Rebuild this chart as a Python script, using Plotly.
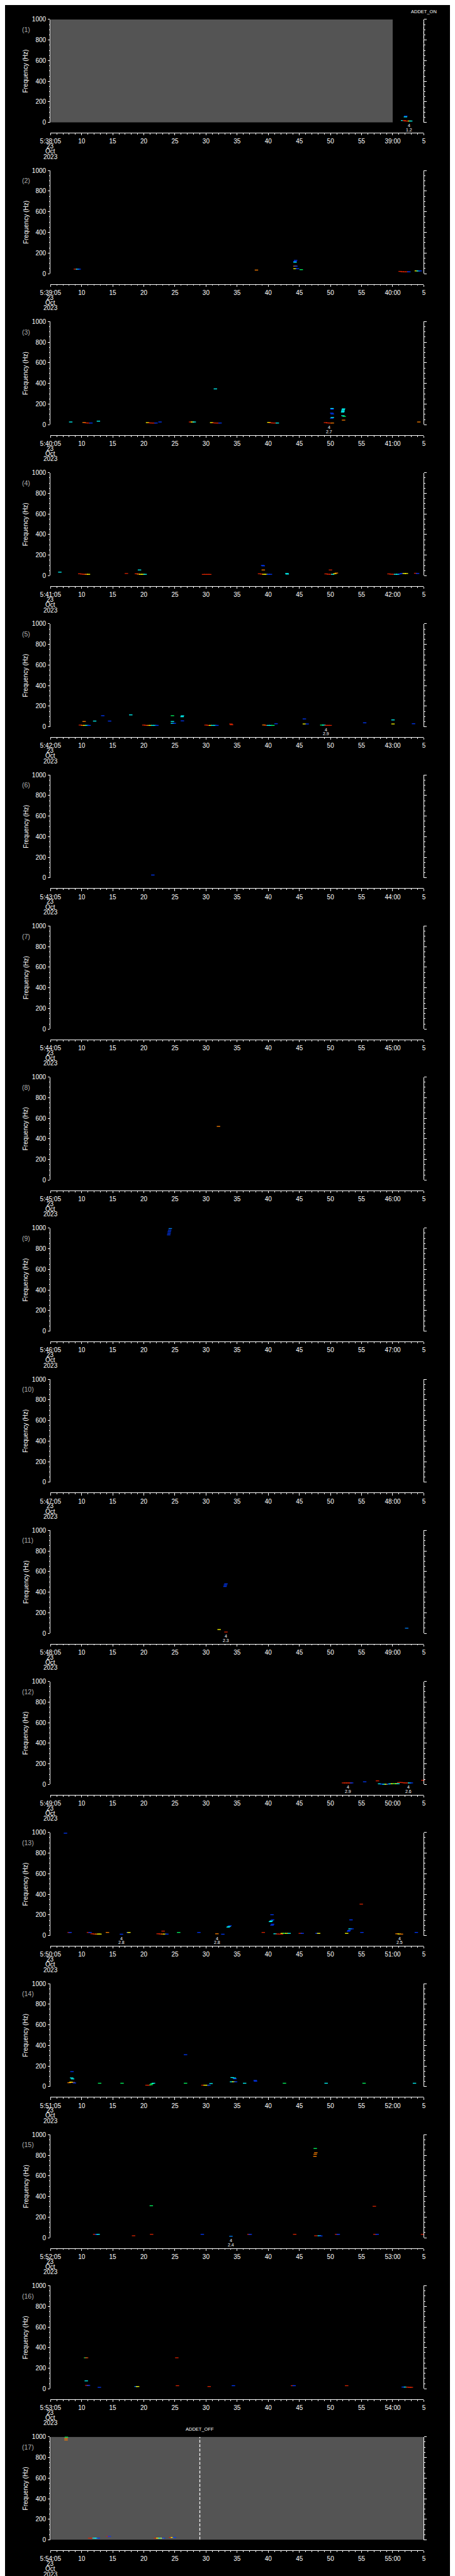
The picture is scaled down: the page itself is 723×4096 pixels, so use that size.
import plotly.graph_objects as go

# ---------------- reference geometry (reference pixel space) ----------------
W_REF, H_REF = 1024.0, 5802.0
S = 0.705
W_OUT, H_OUT = 723, 4096

# ---------------- data ----------------
PANEL_START = ["5:38:05", "5:39:05", "5:40:05", "5:41:05", "5:42:05", "5:43:05",
               "5:44:05", "5:45:05", "5:46:05", "5:47:05", "5:48:05", "5:49:05",
               "5:50:05", "5:51:05", "5:52:05", "5:53:05", "5:54:05"]
PANEL_MINUTE = ["39:00", "40:00", "41:00", "42:00", "43:00", "44:00", "45:00", "46:00",
                "47:00", "48:00", "49:00", "50:00", "51:00", "52:00", "53:00", "54:00", "55:00"]
MID_TICKS = ["10", "15", "20", "25", "30", "35", "40", "45", "50", "55"]
DATE_LINES = ["23", "Oct", "2023"]
Y_TICKS = [0, 200, 400, 600, 800, 1000]

# grey "instrument off" spans: panel, start s, end s
GREY_PANEL = [1, 17]
GREY_T0 = [0, 0]
GREY_T1 = [55, 60]

# ADDET markers: panel, time s, text
ADDET_PANEL = [1, 17]
ADDET_T = [60, 24.0]
ADDET_TEXT = ["ADDET_ON", "ADDET_OFF"]

# event labels under panels
EVT_PANEL = [1, 3, 5, 11, 12, 12, 13, 13, 13, 15]
EVT_T = [57.6, 44.8, 44.3, 28.2, 47.8, 57.5, 11.4, 26.8, 56.1, 29.0]
EVT_N = ["4", "4", "4", "4", "4", "4", "4", "4", "4", "4"]
EVT_V = ["1.2", "2.7", "2.9", "2.3", "2.9", "2.6", "2.8", "2.8", "2.5", "2.4"]

# spectrogram picks per panel: time (s after start), frequency (Hz), level (0..1)
P01_T = [57.1, 57.05, 56.6, 56.85, 57.1, 57.4, 57.7, 57.9]
P01_F = [62, 54, 19, 19, 14, 14, 14, 14]
P01_V = [0.1, 0.36, 0.36, 0.95, 0.95, 0.95, 0.66, 0.36]

P02_T = [4.0, 4.35, 4.6, 33.1, 39.4, 39.3, 39.3, 39.3, 39.45, 39.3, 39.7, 40.3,
         56.2, 56.55, 56.9, 57.25, 57.6, 58.8, 59.1, 59.4]
P02_F = [43, 43, 43, 34, 128, 118, 110, 72, 72, 47, 47, 38, 21, 18, 17, 17, 17, 26, 26, 26]
P02_V = [0.95, 0.36, 0.1, 0.82, 0.1, 0.1, 0.36, 0.82, 0.1, 0.66, 0.1, 0.52,
         0.95, 0.95, 0.95, 0.95, 0.1, 0.66, 0.36, 0.1]

P03_T = [3.25, 5.4, 5.75, 6.1, 6.5, 7.7, 15.6, 15.95, 16.3, 16.65, 16.95, 17.6,
         22.5, 22.8, 23.1, 25.9, 26.25, 26.6, 26.95, 27.25, 26.5,
         35.1, 35.4, 35.75, 36.1, 36.45, 44.2, 44.55, 44.9, 45.3, 45.25, 45.25,
         45.2, 45.3, 45.2, 45.3, 47.1, 47.05, 47.0, 47.0, 46.95, 47.0, 47.2, 47.1, 59.2]
P03_F = [26, 21, 17, 16, 16, 34, 20, 17, 16, 16, 16, 26, 26, 26, 26, 20, 17, 16, 16, 16, 347,
         22, 18, 16, 16, 16, 20, 17, 16, 16, 157, 150, 112, 104, 62, 70,
         154, 145, 136, 128, 122, 87, 80, 44, 26]
P03_V = [0.36, 0.82, 0.95, 0.95, 0.1, 0.36, 0.66, 0.95, 0.95, 0.95, 0.1, 0.1,
         0.95, 0.66, 0.36, 0.66, 0.95, 0.95, 0.95, 0.1, 0.36,
         0.66, 0.95, 0.95, 0.95, 0.36, 0.95, 0.95, 0.95, 0.82, 0.36, 0.1,
         0.1, 0.1, 0.1, 0.36, 0.36, 0.36, 0.36, 0.36, 0.36, 0.36, 0.52, 0.82, 0.82]

P04_T = [1.5, 4.7, 5.05, 5.4, 5.75, 6.1, 12.2, 14.3, 13.8, 14.15, 14.5, 14.85, 15.2,
         24.6, 24.95, 25.3, 25.6, 34.1, 34.2, 34.2, 33.6, 33.95, 34.3, 34.65, 35.0, 35.35,
         38.0, 38.05, 45.0, 44.3, 44.65, 45.0, 45.35, 45.7, 45.95,
         54.4, 54.75, 55.1, 55.45, 55.8, 56.15, 56.5, 56.85, 57.2, 58.7, 59.0]
P04_F = [35, 19, 16, 14, 14, 14, 22, 56, 19, 16, 14, 14, 14, 13, 13, 13, 13, 100, 96, 56,
         19, 16, 14, 14, 14, 14, 22, 16, 56, 18, 15, 14, 14, 20, 26,
         18, 15, 14, 14, 14, 18, 22, 22, 22, 24, 22]
P04_V = [0.36, 0.95, 0.95, 0.95, 0.82, 0.66, 0.95, 0.36, 0.95, 0.82, 0.66, 0.66, 0.36,
         0.95, 0.95, 0.95, 0.95, 0.1, 0.1, 0.82, 0.95, 0.95, 0.66, 0.66, 0.1, 0.1,
         0.36, 0.36, 0.95, 0.95, 0.95, 0.95, 0.36, 0.66, 0.82,
         0.95, 0.95, 0.95, 0.36, 0.36, 0.1, 0.1, 0.66, 0.66, 0.95, 0.1]

P05_T = [4.8, 5.15, 5.5, 5.85, 6.2, 5.4, 7.1, 8.4, 9.5, 12.9,
         15.0, 15.35, 15.7, 16.05, 16.4, 16.75, 17.1, 19.6, 19.6, 19.6, 19.9, 21.2, 21.15, 21.2,
         25.0, 25.35, 25.7, 26.05, 26.4, 26.75, 29.0, 29.1, 34.3, 34.65, 35.0, 35.35, 35.75,
         36.25, 40.8, 40.8, 41.25, 43.6, 43.95, 44.3, 44.65, 44.95, 50.5, 55.05, 55.05, 58.35]
P05_F = [17, 14, 14, 14, 14, 52, 56, 108, 56, 116,
         17, 14, 14, 14, 14, 14, 14, 108, 52, 34, 34, 108, 98, 58,
         17, 14, 14, 14, 14, 14, 28, 20, 18, 14, 14, 14, 14,
         30, 77, 28, 28, 17, 17, 14, 14, 14, 39, 67, 28, 30]
P05_V = [0.95, 0.82, 0.66, 0.36, 0.1, 0.82, 0.36, 0.1, 0.1, 0.36,
         0.95, 0.95, 0.82, 0.66, 0.36, 0.36, 0.1, 0.52, 0.36, 0.36, 0.1, 0.36, 0.36, 0.1,
         0.95, 0.95, 0.66, 0.36, 0.36, 0.1, 0.95, 0.95, 0.82, 0.95, 0.36, 0.36, 0.52,
         0.1, 0.1, 0.66, 0.1, 0.52, 0.36, 0.95, 0.95, 0.95, 0.1, 0.36, 0.66, 0.1]

P06_T = [16.45]
P06_F = [28]
P06_V = [0.1]

P07_T = []
P07_F = []
P07_V = []

P08_T = [27.0]
P08_F = [521]
P08_V = [0.82]

P09_T = [19.0, 19.05, 19.1, 19.15, 19.25]
P09_F = [935, 950, 965, 980, 996]
P09_V = [0.1, 0.1, 0.1, 0.1, 0.22]

P10_T = []
P10_F = []
P10_V = []

P11_T = [28.05, 28.1, 28.2, 27.1, 28.2, 57.25]
P11_F = [455, 468, 480, 37, 13, 50]
P11_V = [0.1, 0.1, 0.1, 0.66, 0.95, 0.22]

P12_T = [47.1, 47.45, 47.8, 48.15, 48.4, 50.5, 52.55, 52.9, 53.25, 53.6, 53.95, 54.3, 54.6,
         54.95, 55.3, 55.6, 55.85, 56.0, 56.35, 56.7, 57.0, 57.35, 57.7, 58.0, 59.85]
P12_F = [15, 15, 15, 15, 15, 26, 35, 6, 3, 2, 2, 4, 6, 7, 7, 7, 7, 19, 19, 17, 15, 15, 15, 15, 41]
P12_V = [0.95, 0.95, 0.95, 0.95, 0.1, 0.1, 0.95, 0.36, 0.1, 0.36, 0.66, 0.1, 0.36,
         0.66, 0.52, 0.66, 0.36, 0.95, 0.95, 0.95, 0.95, 0.95, 0.36, 0.1, 0.95]

P13_T = [2.4, 3.0, 3.15, 6.1, 6.35, 6.7, 7.05, 7.4, 7.75, 7.95, 9.15, 11.4, 12.45, 12.6,
         17.3, 17.65, 18.0, 18.35, 18.7, 18.1, 20.6, 23.85, 26.75, 27.7, 28.55, 28.7, 28.85,
         34.2, 35.6, 35.35, 35.5, 35.7, 35.6, 35.7, 36.1, 36.45, 36.8, 37.15,
         37.25, 37.6, 37.95, 38.35, 40.15, 40.45, 42.85, 43.1, 47.6, 48.0, 47.9, 48.15, 48.45,
         48.3, 49.95, 50.05, 55.7, 56.05, 56.4, 58.8]
P13_F = [993, 30, 30, 30, 30, 17, 14, 14, 14, 14, 30, 13, 30, 30,
         17, 15, 14, 14, 14, 43, 30, 30, 17, 13, 82, 88, 95,
         30, 202, 135, 142, 152, 100, 110, 17, 15, 14, 14,
         21, 21, 21, 21, 21, 21, 21, 21, 21, 50, 42, 65, 65,
         152, 305, 30, 17, 15, 14, 30]
P13_V = [0.1, 0.95, 0.1, 0.95, 0.1, 0.95, 0.95, 0.82, 0.66, 0.66, 0.82, 0.1, 0.1, 0.66,
         0.95, 0.95, 0.82, 0.66, 0.1, 0.95, 0.52, 0.1, 0.82, 0.1, 0.36, 0.36, 0.1,
         0.95, 0.1, 0.36, 0.36, 0.1, 0.1, 0.1, 0.36, 0.95, 0.95, 0.95,
         0.66, 0.52, 0.66, 0.36, 0.95, 0.1, 0.1, 0.66, 0.66, 0.1, 0.1, 0.36, 0.1,
         0.1, 0.95, 0.1, 0.82, 0.66, 0.82, 0.1]

P14_T = [3.45, 3.4, 3.55, 3.0, 3.3, 3.65, 3.85, 7.9, 11.5, 15.5, 15.85, 16.15, 16.3, 16.55,
         21.7, 21.7, 24.5, 24.85, 25.2, 25.45, 25.8, 29.2, 29.55, 29.65, 29.1, 29.45, 29.75,
         31.2, 32.9, 32.95, 37.6, 44.3, 50.4, 58.5]
P14_F = [146, 85, 75, 38, 44, 40, 36, 33, 33, 14, 14, 18, 28, 33,
         310, 33, 14, 14, 14, 14, 30, 88, 84, 76, 47, 47, 47,
         33, 60, 53, 33, 33, 33, 33]
P14_V = [0.1, 0.36, 0.36, 0.82, 0.66, 0.82, 0.1, 0.52, 0.52, 0.95, 0.95, 0.52, 0.52, 0.36,
         0.1, 0.52, 0.95, 0.66, 0.66, 0.1, 0.36, 0.36, 0.36, 0.1, 0.36, 0.66, 0.1,
         0.36, 0.1, 0.1, 0.52, 0.36, 0.52, 0.36]

P15_T = [42.55, 42.5, 42.55, 42.65, 16.2, 52.05, 7.1, 7.4, 7.65, 13.35, 16.25, 24.4, 29.0,
         31.9, 32.1, 39.25, 42.65, 43.2, 43.45, 46.0, 46.25, 52.15, 52.5, 59.8]
P15_F = [866, 790, 810, 825, 310, 305, 33, 33, 33, 19, 33, 33, 14,
         33, 33, 33, 19, 19, 17, 33, 33, 33, 33, 33]
P15_V = [0.52, 0.82, 0.82, 0.82, 0.52, 0.95, 0.95, 0.1, 0.36, 0.95, 0.95, 0.1, 0.22,
         0.95, 0.1, 0.95, 0.95, 0.36, 0.1, 0.95, 0.1, 0.95, 0.1, 0.95]

P16_T = [5.65, 5.8, 20.3, 5.75, 5.85, 6.1, 7.85, 13.75, 14.0, 20.4, 25.5, 29.4,
         38.9, 39.15, 47.6, 56.7, 57.05, 57.4, 57.75, 58.0]
P16_F = [301, 301, 301, 77, 33, 33, 14, 22, 22, 30, 22, 30, 30, 30, 30, 17, 17, 16, 14, 14]
P16_V = [0.52, 0.95, 0.95, 0.36, 0.95, 0.1, 0.1, 0.22, 0.66, 0.95, 0.95, 0.1,
         0.95, 0.1, 0.95, 0.1, 0.36, 0.95, 0.95, 0.95]

P17_T = [2.5, 2.5, 2.55, 6.3, 6.65, 7.0, 7.35, 7.7, 9.25, 9.45,
         16.9, 17.25, 17.6, 17.95, 18.15, 19.3, 19.6, 19.9]
P17_F = [970, 985, 997, 17, 17, 17, 17, 17, 34, 34, 17, 17, 17, 17, 17, 24, 24, 24]
P17_V = [0.82, 0.82, 0.52, 0.95, 0.95, 0.36, 0.36, 0.1, 0.95, 0.1,
         0.95, 0.66, 0.36, 0.66, 0.1, 0.95, 0.66, 0.1]

PANELS = [
    (P01_T, P01_F, P01_V), (P02_T, P02_F, P02_V), (P03_T, P03_F, P03_V),
    (P04_T, P04_F, P04_V), (P05_T, P05_F, P05_V), (P06_T, P06_F, P06_V),
    (P07_T, P07_F, P07_V), (P08_T, P08_F, P08_V), (P09_T, P09_F, P09_V),
    (P10_T, P10_F, P10_V), (P11_T, P11_F, P11_V), (P12_T, P12_F, P12_V),
    (P13_T, P13_F, P13_V), (P14_T, P14_F, P14_V), (P15_T, P15_F, P15_V),
    (P16_T, P16_F, P16_V), (P17_T, P17_F, P17_V),
]

# ---------------- styling ----------------
FONT = "Liberation Sans"
WHITE = "#ffffff"
LABEL_GREY = "#b0b0b0"
OFF_GREY = "#545454"
RAINBOW = [[0.0, "#0000ff"], [0.2, "#0070ff"], [0.36, "#00ffff"], [0.52, "#00ff60"],
           [0.66, "#ffff00"], [0.82, "#ff8000"], [1.0, "#d00000"]]

PLOT_LEFT, PLOT_RIGHT = 80.5, 944.5
FIRST_TOP, PITCH, PLOT_H, AXIS_GAP = 24.0, 341.3, 232.8, 23.5


def px(v):
    return v * S


def py_frac(yref):
    return 1.0 - yref / H_REF


def sfx(k):
    return "" if k == 1 else str(k)


fig = go.Figure()
layout = dict(
    width=W_OUT, height=H_OUT, margin=dict(l=0, r=0, t=0, b=0),
    paper_bgcolor="black", plot_bgcolor="black", showlegend=False,
    font=dict(family=FONT, color=WHITE, size=10),
)
annotations = []
shapes = []

xdom = [PLOT_LEFT / W_REF, PLOT_RIGHT / W_REF]

# grey instrument-off regions, drawn first as filled traces
for p, t0, t1 in zip(GREY_PANEL, GREY_T0, GREY_T1):
    s = sfx(p)
    fig.add_trace(go.Scatter(
        x=[t0, t1, t1, t0, t0], y=[0, 0, 1000, 1000, 0], mode="lines", fill="toself",
        fillcolor=OFF_GREY, line=dict(width=0, color=OFF_GREY), hoverinfo="skip",
        xaxis="x" + s, yaxis="y" + s))

for k in range(1, 18):
    top = FIRST_TOP + (k - 1) * PITCH
    bot = top + PLOT_H
    axy = bot + AXIS_GAP
    s = sfx(k)
    ticktext = [PANEL_START[k - 1]] + MID_TICKS + [PANEL_MINUTE[k - 1], "5"]
    layout["xaxis" + s] = dict(
        domain=xdom, range=[0, 60], anchor="free", position=py_frac(axy),
        showgrid=False, zeroline=False, showline=True, linecolor=WHITE, linewidth=1,
        ticks="outside", ticklen=px(4.5), tickwidth=1, tickcolor=WHITE,
        tickmode="array", tickvals=list(range(0, 61, 5)), ticktext=ticktext,
        tickfont=dict(family=FONT, size=10, color=WHITE), ticklabelstandoff=1,
        minor=dict(dtick=1, tick0=0, ticks="outside", ticklen=px(2.5), tickwidth=1,
                   tickcolor=WHITE, showgrid=False),
        fixedrange=True,
    )
    layout["yaxis" + s] = dict(
        domain=[py_frac(bot), py_frac(top)], range=[0, 1000], anchor="x" + s,
        showgrid=False, zeroline=False, showline=True, linecolor=WHITE, linewidth=1,
        mirror="ticks", ticks="outside", ticklen=px(4.5), tickwidth=1, tickcolor=WHITE,
        tickmode="array", tickvals=Y_TICKS, ticktext=[str(v) for v in Y_TICKS],
        tickfont=dict(family=FONT, size=10, color=WHITE), ticklabelstandoff=1,
        minor=dict(dtick=50, tick0=0, ticks="outside", ticklen=px(2.5), tickwidth=1,
                   tickcolor=WHITE, showgrid=False),
        fixedrange=True,
    )
    # panel number label
    annotations.append(dict(
        text="(%d)" % k, xref="paper", yref="paper", x=12.0 / W_REF, y=py_frac(top + 23),
        xanchor="left", yanchor="middle", showarrow=False,
        font=dict(family=FONT, size=10.5, color=LABEL_GREY)))
    # y title
    annotations.append(dict(
        text="Frequency (Hz)", xref="paper", yref="paper", x=23.0 / W_REF,
        y=py_frac((top + bot) / 2), xanchor="center", yanchor="middle", textangle=-90,
        showarrow=False, font=dict(family=FONT, size=10, color=WHITE)))
    # date lines under first tick label
    for txt, off in zip(DATE_LINES, [30.5, 42.0, 54.0]):
        annotations.append(dict(
            text=txt, xref="x" + s, yref="paper", x=0, y=py_frac(axy + off),
            xanchor="center", yanchor="middle", showarrow=False,
            font=dict(family=FONT, size=10, color=WHITE)))

    T, F, V = PANELS[k - 1]
    n = min(len(T), len(F), len(V))
    # every panel gets a trace so its axes are drawn, even when empty
    fig.add_trace(go.Scatter(
        x=T[:n] if n else [None], y=F[:n] if n else [None], mode="markers",
        xaxis="x" + s, yaxis="y" + s, hoverinfo="skip", cliponaxis=False,
        marker=dict(symbol="line-ew", size=px(5.5), color=V[:n] if n else [0],
                    colorscale=RAINBOW, cmin=0, cmax=1,
                    line=dict(width=1.3, color=V[:n] if n else [0], colorscale=RAINBOW,
                              cmin=0, cmax=1))))

# ADDET markers
for p, t, txt in zip(ADDET_PANEL, ADDET_T, ADDET_TEXT):
    s = sfx(p)
    top = FIRST_TOP + (p - 1) * PITCH
    shapes.append(dict(type="line", xref="x" + s, yref="y" + s, x0=t, x1=t, y0=3, y1=1000,
                       line=dict(color=WHITE, width=1.3,
                                 dash="%.1fpx,%.1fpx" % (px(6.7), px(3.3))),
                       layer="above"))
    annotations.append(dict(
        text=txt, xref="x" + s, yref="paper", x=t, y=py_frac(top - 18),
        xanchor="center", yanchor="middle", showarrow=False,
        font=dict(family=FONT, size=7.5, color=WHITE)))

# event labels
for p, t, n4, v in zip(EVT_PANEL, EVT_T, EVT_N, EVT_V):
    s = sfx(p)
    bot = FIRST_TOP + (p - 1) * PITCH + PLOT_H
    annotations.append(dict(
        text=n4, xref="x" + s, yref="paper", x=t, y=py_frac(bot + 6.5),
        xanchor="center", yanchor="middle", showarrow=False,
        font=dict(family=FONT, size=7, color=WHITE)))
    annotations.append(dict(
        text=v, xref="x" + s, yref="paper", x=t, y=py_frac(bot + 16),
        xanchor="center", yanchor="middle", showarrow=False,
        font=dict(family=FONT, size=7, color=WHITE)))

layout["annotations"] = annotations
layout["shapes"] = shapes
fig.update_layout(**layout)
fig.write_html("out.html")
